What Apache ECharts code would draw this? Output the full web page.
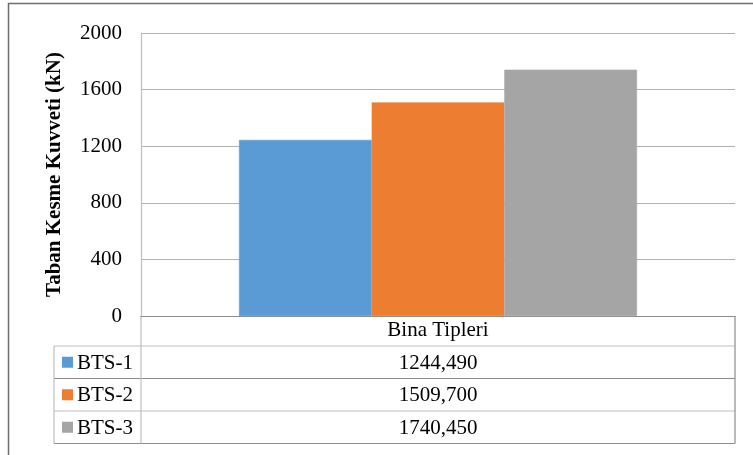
<!DOCTYPE html>
<html>
<head>
<meta charset="utf-8">
<script src="https://cdn.jsdelivr.net/npm/echarts@6/dist/echarts.min.js"></script>
<style>
  html, body { margin: 0; padding: 0; background: #fff; }
  #chart { width: 753px; height: 455px; }
</style>
</head>
<body>
<div id="chart"></div>
<script>
// Base shear per building type
const categories = ['Bina Tipleri'];
const seriesNames = ['BTS-1', 'BTS-2', 'BTS-3'];
const bts1 = [1244.49];
const bts2 = [1509.70];
const bts3 = [1740.45];
const yTicks = [0, 400, 800, 1200, 1600, 2000];

const seriesValues = [bts1, bts2, bts3];
const colors = ['#5b9bd5', '#ed7d31', '#a5a5a5'];
const FONT = "'Liberation Serif', 'Times New Roman', serif";

// Turkish number style: decimal comma, three decimals
const fmt = v => v.toFixed(3).replace('.', ',');

// Layout of plot area and data table underneath
const W = 753, H = 455;
const plotLeft = 141, plotRight = 735, plotTop = 33, axisY = 316;
const tableLeft = 54;
const headerH = 30;
const rowH = 32.5;

const chart = echarts.init(document.getElementById('chart'), null, { renderer: 'canvas' });

const graphics = [];
// Outer chart border (top & left edges visible)
graphics.push({
  type: 'polyline', silent: true,
  shape: { points: [[8.5, H], [8.5, 3.5], [W, 3.5]] },
  style: { stroke: '#6e6e6e', lineWidth: 1.5, fill: null }
});

const lineDark = '#8c8c8c', lineLight = '#bfbfbf';
const hLines = [];
for (let i = 0; i <= seriesNames.length; i++) {
  hLines.push(axisY + headerH + i * rowH);
}
hLines.forEach((y, i) => {
  graphics.push({
    type: 'line', silent: true,
    shape: { x1: tableLeft, y1: y, x2: plotRight, y2: y },
    style: { stroke: i % 2 === 0 ? lineLight : lineDark, lineWidth: 1.2 }
  });
});
// Vertical table borders
graphics.push({ type: 'line', silent: true,
  shape: { x1: tableLeft, y1: hLines[0], x2: tableLeft, y2: hLines[hLines.length - 1] },
  style: { stroke: lineLight, lineWidth: 1.2 } });
graphics.push({ type: 'line', silent: true,
  shape: { x1: plotLeft, y1: axisY, x2: plotLeft, y2: hLines[hLines.length - 1] },
  style: { stroke: lineLight, lineWidth: 1.2 } });
graphics.push({ type: 'line', silent: true,
  shape: { x1: plotRight, y1: axisY, x2: plotRight, y2: hLines[hLines.length - 1] },
  style: { stroke: lineDark, lineWidth: 1.2 } });

// Legend keys and values in table rows
seriesNames.forEach((name, i) => {
  const cy = hLines[i] + rowH / 2;
  graphics.push({ type: 'rect', silent: true,
    shape: { x: 62, y: cy - 5.5, width: 11, height: 11 },
    style: { fill: colors[i] } });
  graphics.push({ type: 'text', silent: true,
    style: { x: 77, y: cy + 1, text: name, fill: '#000', font: '21px ' + FONT,
      textAlign: 'left', textVerticalAlign: 'middle' } });
  graphics.push({ type: 'text', silent: true,
    style: { x: (plotLeft + plotRight) / 2, y: cy + 1, text: fmt(seriesValues[i][0]), fill: '#000',
      font: '21px ' + FONT, textAlign: 'center', textVerticalAlign: 'middle' } });
});

chart.setOption({
  animation: false,
  backgroundColor: '#fff',
  grid: { left: plotLeft, right: W - plotRight, top: plotTop, bottom: H - axisY, containLabel: false },
  xAxis: {
    type: 'category',
    data: categories,
    axisLine: { show: true, lineStyle: { color: lineDark, width: 1.2 } },
    axisTick: { show: false },
    axisLabel: { color: '#000', fontFamily: FONT, fontSize: 21, margin: 4 },
    splitLine: { show: false }
  },
  yAxis: {
    type: 'value',
    min: yTicks[0],
    max: yTicks[yTicks.length - 1],
    interval: yTicks[1] - yTicks[0],
    name: 'Taban Kesme Kuvveti (kN)',
    nameLocation: 'middle',
    nameGap: 76,
    nameTextStyle: { color: '#000', fontFamily: FONT, fontSize: 21, fontWeight: 'bold' },
    axisLine: { show: true, lineStyle: { color: lineLight, width: 1.2 } },
    axisTick: { show: false },
    axisLabel: { color: '#000', fontFamily: FONT, fontSize: 21, margin: 19,
      formatter: v => String(v) },
    splitLine: { show: true, lineStyle: { color: '#b0b0b0', width: 1.2 } }
  },
  series: seriesNames.map((name, i) => ({
    name,
    type: 'bar',
    data: seriesValues[i],
    barGap: '0%',
    barCategoryGap: '33%',
    // thin same-colour outline closes the anti-aliasing seam between adjacent bars
    itemStyle: { color: colors[i], borderColor: colors[i], borderWidth: 0.6 }
  })),
  graphic: graphics
});
</script>
</body>
</html>
